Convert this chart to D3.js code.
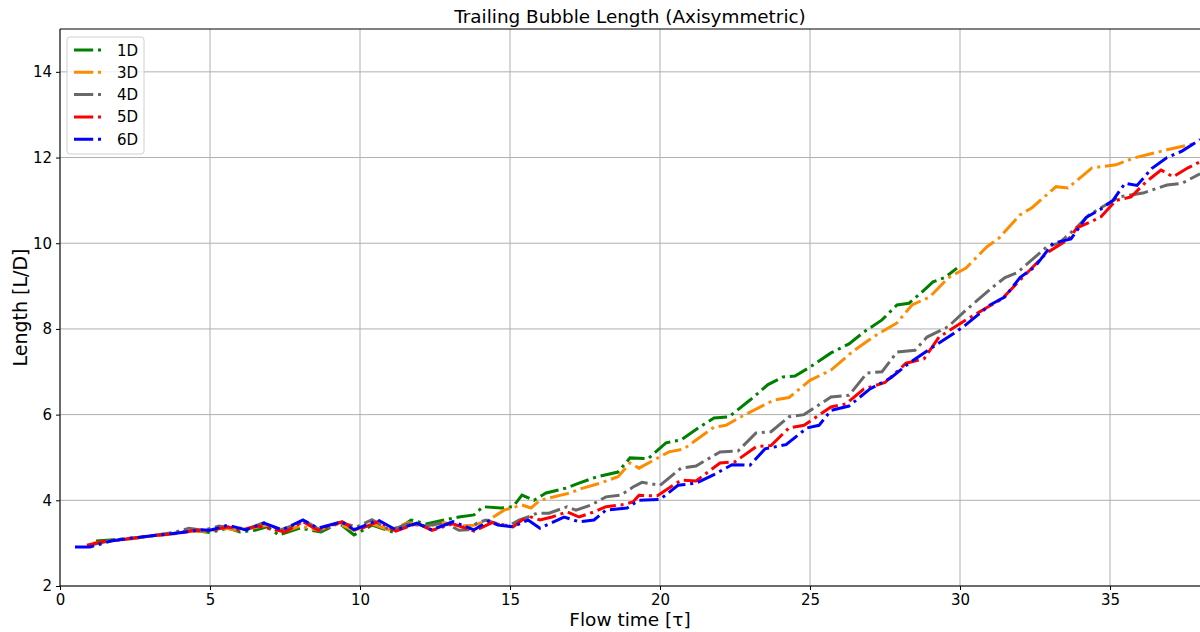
<!DOCTYPE html>
<html>
<head>
<meta charset="utf-8">
<script src="https://cdn.jsdelivr.net/npm/d3@7"></script>
<style>
  body { margin: 0; background: #fff; }
  svg { display: block; font-family: "DejaVu Sans", sans-serif; }
</style>
</head>
<body>
<div class="chart-container"></div>
<script>
const svgWidth = 1200;
const svgHeight = 632;
const margin = {top: 29, right: 0, bottom: 46, left: 60};
const plotW = svgWidth - margin.left - margin.right;
const plotH = svgHeight - margin.top - margin.bottom;

const xTicks = [0, 5, 10, 15, 20, 25, 30, 35];
const yTicks = [2, 4, 6, 8, 10, 12, 14];

// 1D
const t1D = [1.2, 1.8, 2.5, 3.2, 3.9, 4.4, 5.0, 5.6, 6.0, 6.5, 6.9, 7.3, 8.0, 8.7, 9.3, 9.8, 10.4, 11.1, 11.7, 12.2,
  12.8, 13.3, 13.8, 14.1, 14.7, 15.1, 15.4, 15.8, 16.2, 16.9, 17.3, 17.9, 18.6, 19.0, 19.6, 20.2, 20.7, 21.3, 21.8, 22.3,
  23.0, 23.6, 24.1, 24.5, 25.0, 25.7, 26.3, 26.8, 27.4, 27.9, 28.3, 28.7, 29.1, 29.5, 29.9];
const len1D = [3.05, 3.08, 3.12, 3.18, 3.24, 3.3, 3.25, 3.35, 3.26, 3.3, 3.38, 3.19, 3.35, 3.26, 3.47, 3.19, 3.42, 3.26, 3.54, 3.45,
  3.54, 3.61, 3.66, 3.85, 3.82, 3.85, 4.12, 4.0, 4.17, 4.29, 4.4, 4.55, 4.66, 4.99, 4.97, 5.34, 5.41, 5.7, 5.92, 5.95,
  6.34, 6.7, 6.88, 6.9, 7.11, 7.44, 7.65, 7.93, 8.21, 8.56, 8.6, 8.84, 9.1, 9.2, 9.42];

// 3D
const t3D = [1.1, 1.7, 2.4, 3.1, 3.8, 4.4, 4.9, 5.4, 5.9, 6.4, 6.9, 7.5, 8.0, 8.6, 9.3, 9.8, 10.4, 11.0, 11.6, 12.2,
  12.8, 13.3, 13.8, 14.3, 14.8, 15.4, 15.7, 16.0, 16.7, 17.0, 17.4, 18.0, 18.6, 19.0, 19.3, 20.3, 20.8, 21.8, 22.2, 22.7,
  23.8, 24.3, 25.0, 25.7, 26.4, 27.1, 27.9, 28.4, 29.0, 29.6, 30.2, 30.9, 31.3, 32.0, 32.4, 33.2, 33.6, 34.4, 35.2, 35.8,
  36.9, 37.9];
const len3D = [3.0, 3.05, 3.1, 3.17, 3.22, 3.28, 3.28, 3.36, 3.3, 3.35, 3.42, 3.28, 3.4, 3.3, 3.45, 3.3, 3.45, 3.3, 3.48, 3.38,
  3.48, 3.4, 3.42, 3.54, 3.77, 3.89, 3.82, 4.0, 4.12, 4.17, 4.28, 4.4, 4.55, 4.87, 4.75, 5.13, 5.2, 5.71, 5.75, 5.95,
  6.34, 6.4, 6.8, 7.04, 7.46, 7.81, 8.14, 8.56, 8.75, 9.19, 9.42, 9.92, 10.12, 10.66, 10.83, 11.32, 11.29, 11.76, 11.83, 11.99,
  12.18, 12.34];

// 4D
const t4D = [1.0, 1.6, 2.3, 3.0, 3.8, 4.3, 4.8, 5.3, 5.8, 6.3, 6.8, 7.3, 7.8, 8.2, 8.7, 9.3, 9.9, 10.4, 11.0, 11.6,
  12.2, 12.8, 13.3, 13.6, 13.9, 14.2, 14.7, 15.0, 15.3, 15.6, 15.9, 16.3, 16.9, 17.2, 17.7, 18.2, 18.7, 19.1, 19.4, 20.0,
  20.7, 21.2, 22.0, 22.6, 23.2, 23.7, 24.3, 24.8, 25.7, 26.3, 26.9, 27.4, 27.9, 28.5, 28.9, 29.6, 30.2, 31.1, 31.5, 31.9,
  32.9, 33.3, 33.9, 34.3, 35.3, 36.1, 36.9, 37.4, 38.0];
const len4D = [2.95, 3.05, 3.1, 3.17, 3.25, 3.35, 3.3, 3.4, 3.35, 3.35, 3.48, 3.3, 3.42, 3.5, 3.3, 3.48, 3.38, 3.55, 3.3, 3.45,
  3.4, 3.48, 3.3, 3.31, 3.47, 3.54, 3.42, 3.42, 3.54, 3.61, 3.7, 3.7, 3.85, 3.77, 3.89, 4.08, 4.12, 4.31, 4.42, 4.35,
  4.75, 4.8, 5.13, 5.15, 5.57, 5.6, 5.95, 6.0, 6.41, 6.45, 6.97, 7.0, 7.46, 7.5, 7.81, 8.05, 8.44, 8.98, 9.2, 9.31,
  9.92, 10.0, 10.38, 10.66, 11.08, 11.17, 11.36, 11.4, 11.62];

// 5D
const t5D = [0.9, 1.5, 2.2, 3.0, 3.8, 4.5, 5.0, 5.6, 6.0, 6.6, 7.5, 8.1, 8.6, 9.4, 9.9, 10.6, 11.2, 11.9, 12.4, 13.1,
  13.8, 14.4, 15.1, 15.4, 15.7, 16.0, 16.4, 16.9, 17.3, 17.8, 18.2, 18.7, 19.1, 19.3, 19.9, 20.7, 21.2, 22.0, 22.5, 23.2,
  23.7, 24.3, 24.8, 25.7, 26.2, 26.8, 27.5, 28.2, 28.8, 29.3, 30.2, 30.9, 31.4, 32.0, 32.9, 33.6, 33.9, 34.3, 34.7, 35.2,
  35.7, 36.2, 36.7, 37.1, 37.6, 38.0];
const len5D = [2.95, 3.05, 3.1, 3.17, 3.22, 3.3, 3.29, 3.38, 3.3, 3.4, 3.26, 3.5, 3.3, 3.5, 3.3, 3.5, 3.28, 3.46, 3.3, 3.45,
  3.28, 3.48, 3.38, 3.54, 3.61, 3.54, 3.61, 3.73, 3.61, 3.73, 3.85, 3.89, 3.96, 4.12, 4.1, 4.47, 4.45, 4.87, 4.9, 5.25,
  5.28, 5.69, 5.75, 6.18, 6.25, 6.6, 6.75, 7.2, 7.3, 7.81, 8.21, 8.5, 8.7, 9.14, 9.78, 10.08, 10.36, 10.48, 10.62, 11.0,
  11.08, 11.43, 11.71, 11.55, 11.76, 11.9];

// 6D
const t6D = [0.5, 1.0, 1.7, 2.4, 3.3, 4.2, 4.7, 5.0, 5.6, 6.2, 6.8, 7.4, 8.1, 8.6, 9.4, 9.8, 10.6, 11.2, 11.9, 12.4,
  13.1, 13.8, 14.3, 14.6, 15.1, 15.6, 16.0, 16.8, 17.3, 17.8, 18.2, 18.9, 19.3, 20.0, 20.6, 21.2, 21.8, 22.4, 23.0, 23.5,
  24.2, 24.9, 25.3, 25.7, 26.3, 27.0, 27.7, 28.3, 29.1, 29.8, 30.2, 31.0, 31.5, 32.0, 32.5, 33.1, 33.7, 34.2, 34.7, 35.1,
  35.5, 35.9, 36.4, 36.9, 37.4, 38.0];
const len6D = [2.91, 2.91, 3.05, 3.12, 3.19, 3.26, 3.31, 3.3, 3.42, 3.31, 3.47, 3.31, 3.54, 3.35, 3.5, 3.31, 3.54, 3.31, 3.47, 3.31,
  3.5, 3.31, 3.52, 3.42, 3.38, 3.54, 3.35, 3.61, 3.5, 3.54, 3.77, 3.82, 4.0, 4.02, 4.35, 4.4, 4.6, 4.83, 4.82, 5.2,
  5.3, 5.69, 5.75, 6.1, 6.2, 6.6, 6.86, 7.2, 7.58, 7.9, 8.1, 8.56, 8.75, 9.2, 9.45, 10.0, 10.1, 10.6, 10.8, 11.0,
  11.4, 11.35, 11.75, 12.0, 12.15, 12.42];

const seriesNames = ["1D", "3D", "4D", "5D", "6D"];
const seriesColors = ["green", "darkorange", "dimgray", "red", "blue"];
const seriesT = [t1D, t3D, t4D, t5D, t6D];
const seriesLen = [len1D, len3D, len4D, len5D, len6D];

const dash = "19.2,4.8,3,4.8";
const fontFam = "DejaVu Sans, sans-serif";

const svg = d3.select(".chart-container")
  .append("svg")
  .attr("width", svgWidth)
  .attr("height", svgHeight);

const x = d3.scaleLinear().domain([0, 38]).range([0, plotW]);
const y = d3.scaleLinear().domain([2, 15]).range([plotH, 0]);

const g = svg.append("g").attr("transform", "translate(" + margin.left + "," + margin.top + ")");

svg.append("defs").append("clipPath").attr("id", "clip")
  .append("rect").attr("width", plotW).attr("height", plotH);

// grid
g.append("g")
  .selectAll("line.vg")
  .data(xTicks)
  .enter().append("line")
  .attr("x1", d => x(d)).attr("x2", d => x(d))
  .attr("y1", 0).attr("y2", plotH)
  .attr("stroke", "#b0b0b0").attr("stroke-width", 1);
g.append("g")
  .selectAll("line.hg")
  .data(yTicks)
  .enter().append("line")
  .attr("x1", 0).attr("x2", plotW)
  .attr("y1", d => y(d)).attr("y2", d => y(d))
  .attr("stroke", "#b0b0b0").attr("stroke-width", 1);

// lines
const line = d3.line()
  .x(d => x(d[0]))
  .y(d => y(d[1]));

const lines = g.append("g").attr("clip-path", "url(#clip)");
seriesNames.forEach(function(name, i) {
  const pts = seriesT[i].map((t, k) => [t, seriesLen[i][k]]);
  lines.append("path")
    .datum(pts)
    .attr("d", line)
    .attr("fill", "none")
    .attr("stroke", seriesColors[i])
    .attr("stroke-width", 3)
    .attr("stroke-dasharray", dash);
});

// axes
const xAxis = d3.axisBottom(x).tickValues(xTicks).tickSize(4).tickPadding(4);
const yAxis = d3.axisLeft(y).tickValues(yTicks).tickSize(4).tickPadding(4);

const gx = g.append("g").attr("transform", "translate(0," + plotH + ")").call(xAxis);
const gy = g.append("g").call(yAxis);
[gx, gy].forEach(function(a) {
  a.attr("font-family", fontFam).attr("font-size", 15);
  a.select(".domain").remove();
  a.selectAll("text").attr("fill", "#000");
  a.selectAll("line").attr("stroke", "#000");
});

// spines
g.append("line").attr("x1", 0).attr("x2", 0).attr("y1", 0).attr("y2", plotH).attr("stroke", "#000").attr("stroke-width", 1);
g.append("line").attr("x1", 0).attr("x2", plotW).attr("y1", plotH).attr("y2", plotH).attr("stroke", "#000").attr("stroke-width", 1);
g.append("line").attr("x1", 0).attr("x2", plotW).attr("y1", 0).attr("y2", 0).attr("stroke", "#000").attr("stroke-width", 1);

// titles
svg.append("text")
  .attr("x", margin.left + plotW / 2)
  .attr("y", 23)
  .attr("text-anchor", "middle")
  .style("font-size", "18.4px")
  .text("Trailing Bubble Length (Axisymmetric)");

svg.append("text")
  .attr("x", margin.left + plotW / 2)
  .attr("y", 626)
  .attr("text-anchor", "middle")
  .style("font-size", "18.5px")
  .text("Flow time [τ]");

svg.append("text")
  .attr("transform", "translate(27," + (margin.top + plotH / 2) + ") rotate(-90)")
  .attr("text-anchor", "middle")
  .style("font-size", "19px")
  .text("Length [L/D]");

// legend
const legend = svg.append("g").attr("transform", "translate(67,37)");
legend.append("rect")
  .attr("width", 77).attr("height", 117)
  .attr("rx", 3)
  .attr("fill", "#fff").attr("fill-opacity", 0.8)
  .attr("stroke", "#d0d0d0");
seriesNames.forEach(function(name, i) {
  const ly = 13 + i * 22.3;
  legend.append("line")
    .attr("x1", 7).attr("x2", 34)
    .attr("y1", ly).attr("y2", ly)
    .attr("stroke", seriesColors[i])
    .attr("stroke-width", 3)
    .attr("stroke-dasharray", dash);
  legend.append("text")
    .attr("x", 50).attr("y", ly + 5.5)
    .style("font-size", "15px")
    .text(name);
});
</script>
</body>
</html>
